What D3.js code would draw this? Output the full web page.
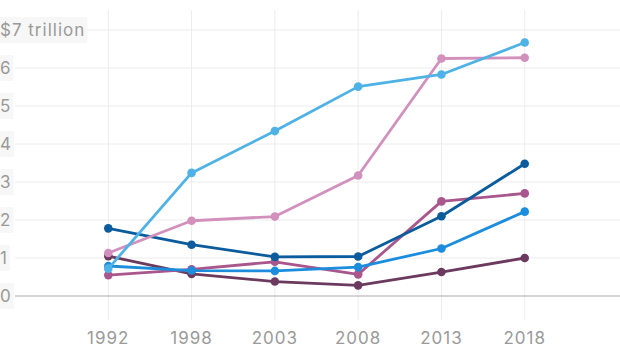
<!DOCTYPE html>
<html>
<head>
<meta charset="utf-8">
<script src="https://cdn.jsdelivr.net/npm/d3@7"></script>
<style>
  html, body { margin: 0; padding: 0; background: #fff; }
  svg { display: block; }
  text { font-family: Inter, "Noto Sans", sans-serif; letter-spacing: 1px; }
</style>
</head>
<body>
<svg id="chart" width="620" height="348"></svg>
<script>
// Survey years along the x axis
const years = ["1992", "1998", "2003", "2008", "2013", "2018"];

// Values in trillions of dollars, one array per series
const seriesLightBlue  = [0.72, 3.24, 4.34, 5.51, 5.83, 6.67];
const seriesPink       = [1.13, 1.98, 2.09, 3.17, 6.25, 6.27];
const seriesDarkBlue   = [1.78, 1.35, 1.03, 1.04, 2.10, 3.48];
const seriesMagenta    = [0.55, 0.70, 0.90, 0.57, 2.49, 2.70];
const seriesMidBlue    = [0.79, 0.67, 0.66, 0.76, 1.25, 2.22];
const seriesDarkPurple = [1.05, 0.58, 0.38, 0.28, 0.63, 1.00];

const yTicks = [0, 1, 2, 3, 4, 5, 6, 7];
const yTickLabels = ["0", "1", "2", "3", "4", "5", "6", "$7 trillion"];

const series = [
  { values: seriesDarkPurple, color: "#6b3a5e" },
  { values: seriesMagenta,    color: "#a9568d" },
  { values: seriesMidBlue,    color: "#1b8ddc" },
  { values: seriesDarkBlue,   color: "#0b5c9c" },
  { values: seriesPink,       color: "#d290bc" },
  { values: seriesLightBlue,  color: "#4fb2e6" }
];

const svg = d3.select("#chart");

const x = d3.scalePoint().domain(years).range([25, 608]).padding(1);
const y = d3.scaleLinear().domain([0, 7]).range([296, 30]);

// Vertical gridlines at each year
svg.append("g")
  .selectAll("line")
  .data(years)
  .join("line")
  .attr("x1", d => x(d)).attr("x2", d => x(d))
  .attr("y1", 10).attr("y2", 320)
  .attr("stroke", "#ececec").attr("stroke-width", 1);

// Horizontal gridlines
svg.append("g")
  .selectAll("line")
  .data(yTicks.filter(d => d > 0))
  .join("line")
  .attr("x1", 15).attr("x2", 620)
  .attr("y1", d => y(d)).attr("y2", d => y(d))
  .attr("stroke", "#ececec").attr("stroke-width", 1);

// Baseline at zero
svg.append("line")
  .attr("x1", 15).attr("x2", 620)
  .attr("y1", y(0)).attr("y2", y(0))
  .attr("stroke", "#aaaaaa").attr("stroke-width", 1);

// Y tick labels on light boxes
const yLab = svg.append("g")
  .selectAll("g")
  .data(yTicks)
  .join("g")
  .attr("transform", d => `translate(0,${y(d)})`);

yLab.append("text")
  .attr("x", 0)
  .attr("dy", "0.36em")
  .attr("fill", "#9a9a9a")
  .attr("font-size", 17)
  .text((d, i) => yTickLabels[i]);

yLab.each(function() {
  const g = d3.select(this);
  const bb = g.select("text").node().getBBox();
  g.insert("rect", "text")
    .attr("x", 0).attr("y", -13)
    .attr("width", bb.width + 2).attr("height", 26)
    .attr("fill", "#f7f7f7");
});

// X axis labels
svg.append("g")
  .selectAll("text")
  .data(years)
  .join("text")
  .attr("x", d => x(d))
  .attr("y", 344)
  .attr("text-anchor", "middle")
  .attr("fill", "#9a9a9a")
  .attr("font-size", 17)
  .text(d => d);

const line = d3.line()
  .x((d, i) => x(years[i]))
  .y(d => y(d));

const sg = svg.append("g")
  .selectAll("g")
  .data(series)
  .join("g");

sg.append("path")
  .attr("d", d => line(d.values))
  .attr("fill", "none")
  .attr("stroke", d => d.color)
  .attr("stroke-width", 2.8)
  .attr("stroke-linejoin", "round");

sg.selectAll("circle")
  .data(d => d.values.map((v, i) => ({ v, i, color: d.color })))
  .join("circle")
  .attr("cx", d => x(years[d.i]))
  .attr("cy", d => y(d.v))
  .attr("r", 4.3)
  .attr("fill", d => d.color);
</script>
</body>
</html>
